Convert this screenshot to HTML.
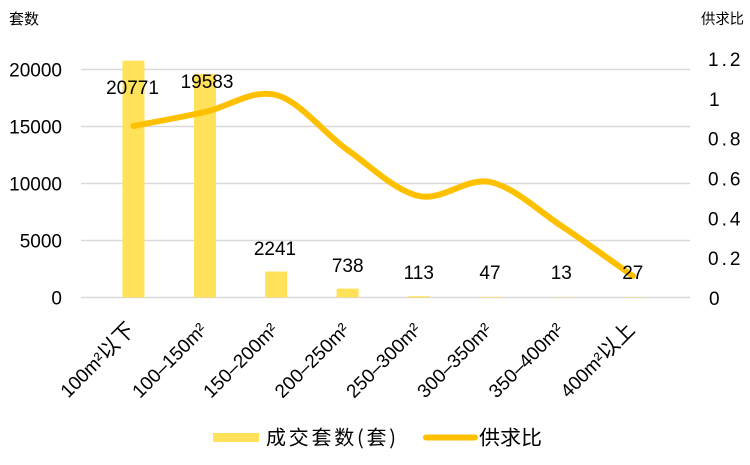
<!DOCTYPE html>
<html><head><meta charset="utf-8"><style>
html,body{margin:0;padding:0;background:#fff;}
svg{display:block;}
text{font-family:"Liberation Sans","Noto Sans CJK SC",sans-serif;fill:#000;}
.cjk{font-family:"Noto Sans CJK SC","WenQuanYi Zen Hei",sans-serif;}
</style></head><body>
<svg width="750" height="465" viewBox="0 0 750 465" xmlns="http://www.w3.org/2000/svg">
<rect width="750" height="465" fill="#fff"/>
<!-- gridlines -->
<g stroke="#d9d9d9" stroke-width="1.6">
<line x1="81" y1="69.5" x2="690" y2="69.5"/>
<line x1="81" y1="126.5" x2="690" y2="126.5"/>
<line x1="81" y1="183.5" x2="690" y2="183.5"/>
<line x1="81" y1="240.5" x2="690" y2="240.5"/>
<line x1="81" y1="297.5" x2="690" y2="297.5"/>
</g>
<!-- titles -->
<text class="cjk" x="9" y="24" font-size="15" textLength="30" lengthAdjust="spacingAndGlyphs">套数</text>
<text class="cjk" x="701" y="24" font-size="14.5" textLength="43" lengthAdjust="spacingAndGlyphs">供求比</text>
<!-- left axis -->
<g font-size="19" text-anchor="end">
<text x="62" y="76.5">20000</text>
<text x="62" y="133.5">15000</text>
<text x="62" y="190.5">10000</text>
<text x="62" y="247.5">5000</text>
<text x="62" y="304.5">0</text>
</g>
<!-- right axis -->
<g font-size="19" letter-spacing="3">
<text x="708" y="66">1.2</text>
<text x="709" y="106">1</text>
<text x="708" y="145.5">0.8</text>
<text x="708" y="185.5">0.6</text>
<text x="708" y="225.5">0.4</text>
<text x="708" y="265">0.2</text>
<text x="709" y="305">0</text>
</g>
<!-- bars -->
<g fill="#FFE15A">
<rect x="122.5" y="60.7" width="22" height="236.8"/>
<rect x="194" y="74.2" width="22" height="223.3"/>
<rect x="265.3" y="271.5" width="22" height="26"/>
<rect x="336.6" y="288.6" width="22" height="8.9"/>
<rect x="407.9" y="296.2" width="22" height="1.3"/>
<rect x="479.2" y="296.9" width="22" height="0.6"/>
<rect x="550.5" y="297.2" width="22" height="0.3"/>
<rect x="621.8" y="297.1" width="22" height="0.4"/>
</g>
<!-- line -->
<path d="M133.5,126 C145.4,123.7 181.2,117.2 205,112 C228.8,106.8 252.5,88.7 276.3,95 C300.1,101.3 323.8,133.2 347.6,150 C371.4,166.8 395.1,190.7 418.9,196 C442.7,201.3 466.4,177 490.2,182 C514,187 537.7,210.3 561.5,226 C585.3,241.7 620.9,267.7 632.8,276" fill="none" stroke="#FFC000" stroke-width="6" stroke-linecap="round" stroke-linejoin="round"/>
<!-- data labels -->
<g font-size="19" text-anchor="middle">
<text x="132.5" y="94">20771</text>
<text x="207" y="88">19583</text>
<text x="275" y="255">2241</text>
<text x="347.7" y="272">738</text>
<text x="418.8" y="279">113</text>
<text x="490" y="279">47</text>
<text x="561.3" y="279">13</text>
<text x="632.8" y="279">27</text>
</g>
<!-- x labels -->
<g font-size="19" text-anchor="end">
<text transform="translate(136,331) rotate(-45)">100m²<tspan class="cjk" font-size="21">以下</tspan></text>
<text transform="translate(208,331) rotate(-45)">100–150m²</text>
<text transform="translate(279,331) rotate(-45)">150–200m²</text>
<text transform="translate(350.5,331) rotate(-45)">200–250m²</text>
<text transform="translate(422,331) rotate(-45)">250–300m²</text>
<text transform="translate(493,331) rotate(-45)">300–350m²</text>
<text transform="translate(564.5,331) rotate(-45)">350–400m²</text>
<text transform="translate(636,331) rotate(-45)">400m²<tspan class="cjk" font-size="21">以上</tspan></text>
</g>
<!-- legend -->
<rect x="213" y="433" width="46" height="9" fill="#FFE15A"/>
<text class="cjk" x="266" y="444.5" font-size="20" textLength="130" lengthAdjust="spacing">成交套数(套)</text>
<line x1="426" y1="437.5" x2="475" y2="437.5" stroke="#FFC000" stroke-width="6" stroke-linecap="round"/>
<text class="cjk" x="479" y="444.5" font-size="20" textLength="63" lengthAdjust="spacingAndGlyphs">供求比</text>
</svg>
</body></html>
